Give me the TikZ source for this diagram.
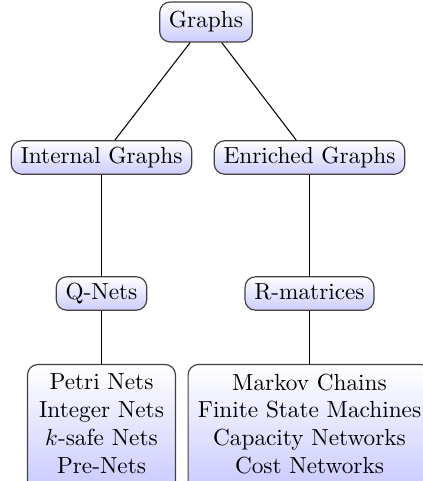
\documentclass[tikz,border=0pt]{standalone}
\usetikzlibrary{backgrounds,calc}
\begin{document}
\begin{tikzpicture}[x=0.43pt,y=-0.43pt,
  base/.style={draw=black!75, line width=0.5pt, rounded corners=4.5pt,
    top color=white, bottom color=blue!20,
    font=\fontsize{10}{12}\selectfont},
  box/.style={base, inner xsep=4pt, inner ysep=2.6pt, text height=7pt, text depth=2.2pt},
  listbox/.style={align=center, inner xsep=3pt, minimum height=50.8pt,
    font=\fontsize{10}{12}\selectfont},
  listframe/.style={draw=black!75, line width=0.5pt, rounded corners=4.5pt,
    top color=white, bottom color=blue!22},
  link/.style={draw=black, line width=0.45pt}]
\useasboundingbox (0,0) rectangle (422,481);
\clip (0,0) rectangle (422,481);

% hierarchy of graph notions
\node[box, minimum height=17.2pt] (g)  at (206,22)    {Graphs};
\node[box] (ig) at (101.5,157.5) {Internal Graphs};
\node[box] (eg) at (309.5,157.5) {Enriched Graphs};
\node[box] (q)  at (101.5,293.5) {Q-Nets};
\node[box] (r)  at (309.5,293.5) {R-matrices};
\node[listbox, minimum width=63.2pt] (pn) at (101.5,424)
  {Petri Nets\\Integer Nets\\$k$-safe Nets\\Pre-Nets};
\node[listbox, minimum width=104pt] (mc) at (309.5,424)
  {Markov Chains\\Finite State Machines\\Capacity Networks\\Cost Networks};

% frames of the two lists run on below the lower edge
\begin{pgfonlayer}{background}
  \path[listframe] (pn.north west) rectangle ($(pn.south east)+(0,12)$);
  \path[listframe] (mc.north west) rectangle ($(mc.south east)+(0,12)$);
\end{pgfonlayer}

\draw[link] (g) -- (ig);
\draw[link] (g) -- (eg);
\draw[link] (ig) -- (q);
\draw[link] (eg) -- (r);
\draw[link] (q) -- (pn);
\draw[link] (r) -- (mc);
\end{tikzpicture}
\end{document}
